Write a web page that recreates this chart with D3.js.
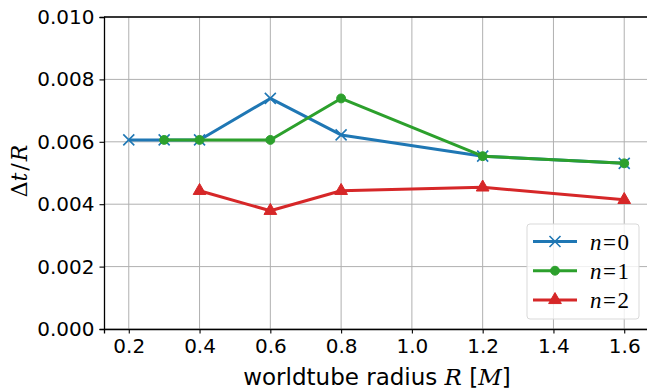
<!DOCTYPE html>
<html>
<head>
<meta charset="utf-8">
<script src="https://cdn.jsdelivr.net/npm/d3@7"></script>
<style>
  body { margin: 0; background: #fff; }
  .tick text { font-family: "DejaVu Sans", sans-serif; font-size: 20px; fill: #000; }
</style>
</head>
<body>
<div class="chart"></div>
<script>
var svgWidth = 647;
var svgHeight = 389;

var margin = { top: 17, right: -2, bottom: 60, left: 104 };
var width = svgWidth - margin.left - margin.right;
var height = svgHeight - margin.top - margin.bottom;

// data
var xTicks = [0.2, 0.4, 0.6, 0.8, 1.0, 1.2, 1.4, 1.6];
var yTicks = [0.000, 0.002, 0.004, 0.006, 0.008, 0.010];

var r0 = [0.2, 0.3, 0.4, 0.6, 0.8, 1.2, 1.6];
var dt0 = [0.00606, 0.00606, 0.00606, 0.00739, 0.00622, 0.00554, 0.00531];

var r1 = [0.3, 0.4, 0.6, 0.8, 1.2, 1.6];
var dt1 = [0.00606, 0.00606, 0.00606, 0.00739, 0.00554, 0.00531];

var r2 = [0.4, 0.6, 0.8, 1.2, 1.6];
var dt2 = [0.00443, 0.00379, 0.00443, 0.00454, 0.00414];

var seriesNames = ["0", "1", "2"];
var seriesColors = ["#1f77b4", "#2ca02c", "#d62728"];
var seriesMarkers = ["x", "circle", "triangle"];

var series = [
  { x: r0, y: dt0 },
  { x: r1, y: dt1 },
  { x: r2, y: dt2 }
];

var svg = d3.select(".chart")
  .append("svg")
  .attr("width", svgWidth)
  .attr("height", svgHeight);

var chart = svg.append("g")
  .attr("transform", "translate(" + margin.left + "," + margin.top + ")");

var xScale = d3.scaleLinear().domain([0.13, 1.67]).range([0, width]);
var yScale = d3.scaleLinear().domain([0, 0.010]).range([height, 0]);

// grid
chart.append("g").selectAll("line")
  .data(xTicks)
  .enter().append("line")
  .attr("x1", function(d) { return xScale(d); })
  .attr("x2", function(d) { return xScale(d); })
  .attr("y1", 0).attr("y2", height)
  .attr("stroke", "#b0b0b0").attr("stroke-width", 1);

chart.append("g").selectAll("line")
  .data(yTicks)
  .enter().append("line")
  .attr("x1", 0).attr("x2", width)
  .attr("y1", function(d) { return yScale(d); })
  .attr("y2", function(d) { return yScale(d); })
  .attr("stroke", "#b0b0b0").attr("stroke-width", 1);

// lines and markers
function markerPath(type) {
  if (type === "x") return "M-5.5,-5.5L5.5,5.5M-5.5,5.5L5.5,-5.5";
  if (type === "circle") return d3.symbol().type(d3.symbolCircle).size(62)();
  return d3.symbol().type(d3.symbolTriangle).size(70)();
}

var line = d3.line()
  .x(function(d) { return xScale(d[0]); })
  .y(function(d) { return yScale(d[1]); });

series.forEach(function(s, i) {
  var pts = s.x.map(function(v, j) { return [v, s.y[j]]; });
  chart.append("path")
    .datum(pts)
    .attr("d", line)
    .attr("fill", "none")
    .attr("stroke", seriesColors[i])
    .attr("stroke-width", 3)
    .attr("stroke-linejoin", "round");

  chart.append("g").selectAll("path")
    .data(pts)
    .enter().append("path")
    .attr("transform", function(d) { return "translate(" + xScale(d[0]) + "," + yScale(d[1]) + ")"; })
    .attr("d", markerPath(seriesMarkers[i]))
    .attr("fill", seriesMarkers[i] === "x" ? "none" : seriesColors[i])
    .attr("stroke", seriesColors[i])
    .attr("stroke-width", seriesMarkers[i] === "x" ? 1.6 : 1);
});

// axes
var bottomAxis = d3.axisBottom(xScale).tickValues(xTicks)
  .tickFormat(d3.format(".1f")).tickSizeOuter(0).tickSize(4.5).tickPadding(5);
var leftAxis = d3.axisLeft(yScale).tickValues(yTicks)
  .tickFormat(d3.format(".3f")).tickSizeOuter(0).tickSize(4.5).tickPadding(5);

var gx = chart.append("g")
  .attr("transform", "translate(0," + height + ")")
  .call(bottomAxis);
var gy = chart.append("g").call(leftAxis);
[gx, gy].forEach(function(g) {
  g.select(".domain").attr("stroke", "#000").attr("stroke-width", 1.3);
  g.selectAll(".tick line").attr("stroke", "#000").attr("stroke-width", 1.1);
});

chart.append("line")
  .attr("x1", 0).attr("x2", width)
  .attr("y1", 0).attr("y2", 0)
  .attr("stroke", "#000").attr("stroke-width", 1.3);

// axis labels
var xl = svg.append("text")
  .attr("x", 377)
  .attr("y", 385)
  .attr("text-anchor", "middle")
  .style("font-family", "DejaVu Sans, sans-serif")
  .style("font-size", "23px");
xl.append("tspan").text("worldtube radius ");
xl.append("tspan").style("font-family", "DejaVu Serif, serif").style("font-style", "italic").text("R");
xl.append("tspan").text(" [");
xl.append("tspan").style("font-family", "DejaVu Serif, serif").style("font-style", "italic").text("M");
xl.append("tspan").text("]");

var yl = svg.append("text")
  .attr("transform", "translate(27,171) rotate(-90)")
  .attr("text-anchor", "middle")
  .style("font-family", "DejaVu Serif, serif")
  .style("font-size", "22px");
yl.append("tspan").text("Δ");
yl.append("tspan").style("font-style", "italic").text("t");
yl.append("tspan").attr("dx", 2).text("/");
yl.append("tspan").attr("dx", 2).style("font-style", "italic").text("R");

// legend
var legend = svg.append("g").attr("transform", "translate(527,224)");
legend.append("rect")
  .attr("width", 112).attr("height", 95)
  .attr("rx", 3)
  .attr("fill", "#fff").attr("fill-opacity", 0.8)
  .attr("stroke", "#d9d9d9").attr("stroke-width", 1);

seriesNames.forEach(function(name, i) {
  var yy = 17.5 + i * 29.2;
  var row = legend.append("g").attr("transform", "translate(0," + yy + ")");
  row.append("line")
    .attr("x1", 6).attr("x2", 50)
    .attr("stroke", seriesColors[i]).attr("stroke-width", 3);
  row.append("path")
    .attr("transform", "translate(28,0)")
    .attr("d", markerPath(seriesMarkers[i]))
    .attr("fill", seriesMarkers[i] === "x" ? "none" : seriesColors[i])
    .attr("stroke", seriesColors[i])
    .attr("stroke-width", seriesMarkers[i] === "x" ? 1.6 : 1);
  var t = row.append("text")
    .attr("x", 63).attr("y", 8)
    .style("font-family", "Liberation Serif, serif")
    .style("font-size", "23px");
  t.append("tspan").style("font-style", "italic").text("n");
  t.append("tspan").attr("dx", 1.5).text("=");
  t.append("tspan").attr("dx", 1.5).text(name);
});
</script>
</body>
</html>
